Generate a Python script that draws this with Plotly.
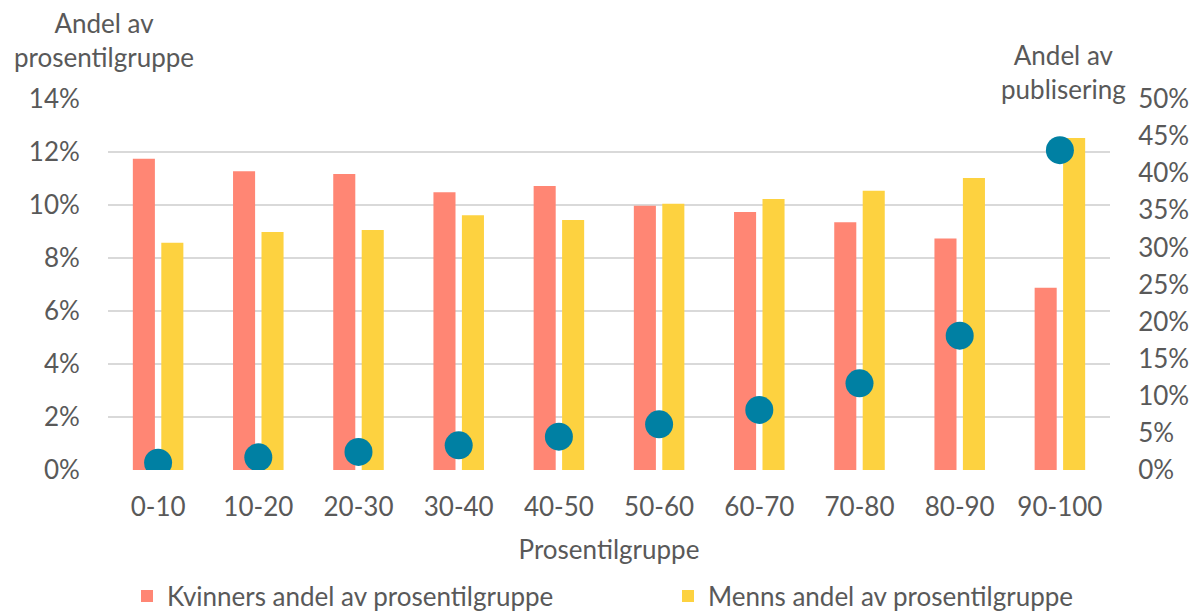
import plotly.graph_objects as go

categories = ["0-10", "10-20", "20-30", "30-40", "40-50", "50-60", "60-70", "70-80", "80-90", "90-100"]
kvinner = [11.75, 11.27, 11.17, 10.48, 10.72, 9.97, 9.74, 9.35, 8.74, 6.88]
menn = [8.58, 8.98, 9.06, 9.61, 9.43, 10.05, 10.23, 10.54, 11.02, 12.53]
publisering = [0.98, 1.71, 2.43, 3.33, 4.49, 6.16, 8.09, 11.68, 18.1, 43.1]

left_ticks = [0, 2, 4, 6, 8, 10, 12, 14]
right_ticks = [0, 5, 10, 15, 20, 25, 30, 35, 40, 45, 50]

FONT = "Lato"
GREY = "#595959"
FS = 26

L, R, T, B = 108, 85, 99, 144
W, H = 1195, 614
plot_w = W - L - R
plot_h = H - T - B


def px_to_paper(xp, yp):
    return (xp - L) / plot_w, (H - B - yp) / plot_h


fig = go.Figure()
fig.add_trace(go.Bar(x=categories, y=kvinner, name="Kvinners andel av prosentilgruppe",
                     marker=dict(color="#FF8674", line=dict(width=0)), legend="legend"))
fig.add_trace(go.Bar(x=categories, y=menn, name="Menns andel av prosentilgruppe",
                     marker=dict(color="#FDD240", line=dict(width=0)), legend="legend2"))
fig.add_trace(go.Scatter(x=categories, y=publisering, name="Andel av publisering", yaxis="y2",
                         mode="markers", showlegend=False,
                         marker=dict(color="#0080A3", size=28, line=dict(width=0))))

l1x, l1y = px_to_paper(127, 596)
l2x, _ = px_to_paper(668, 596)
fig.update_layout(
    width=W, height=H,
    margin=dict(l=L, r=R, t=T, b=B, autoexpand=False),
    paper_bgcolor="white", plot_bgcolor="white",
    font=dict(family=FONT, size=FS, color=GREY),
    barmode="group", bargap=0.432, bargroupgap=0.225,
    xaxis=dict(type="category", range=[-0.5, len(categories) - 0.5],
               showgrid=False, showline=False, ticks="outside", ticklen=14, tickcolor="white",
               automargin=False, tickfont=dict(size=FS),
               title=dict(text="Prosentilgruppe", font=dict(size=FS), standoff=19)),
    yaxis=dict(range=[0, 14], tickvals=left_ticks, ticktext=[f"{v}%" for v in left_ticks],
               showgrid=True, gridcolor="#D9D9D9", gridwidth=2, zeroline=False, showline=False,
               ticks="outside", ticklen=22, tickcolor="white", automargin=False),
    yaxis2=dict(range=[0, 50], tickvals=right_ticks, ticktext=[f"{v}%" for v in right_ticks],
                overlaying="y", side="right", showgrid=False, zeroline=False, showline=False,
                ticks="outside", ticklen=22, tickcolor="white", automargin=False),
    legend=dict(orientation="h", x=l1x, xanchor="left", y=l1y, yanchor="middle",
                font=dict(size=FS), itemwidth=30, bgcolor="rgba(0,0,0,0)"),
    legend2=dict(orientation="h", x=l2x, xanchor="left", y=l1y, yanchor="middle",
                 font=dict(size=FS), itemwidth=30, bgcolor="rgba(0,0,0,0)"),
)

lx, ly = px_to_paper(104, 40)
rx, ry = px_to_paper(1063, 72)
fig.add_annotation(text="Andel av<br>prosentilgruppe", x=lx, y=ly, xref="paper", yref="paper",
                   showarrow=False, font=dict(size=FS, color=GREY), align="center",
                   xanchor="center", yanchor="middle")
fig.add_annotation(text="Andel av<br>publisering", x=rx, y=ry, xref="paper", yref="paper",
                   showarrow=False, font=dict(size=FS, color=GREY), align="center",
                   xanchor="center", yanchor="middle")

fig.write_html("out.html", config={"displayModeBar": False},
               post_script="document.body.style.margin='0';document.body.style.overflow='hidden';")
